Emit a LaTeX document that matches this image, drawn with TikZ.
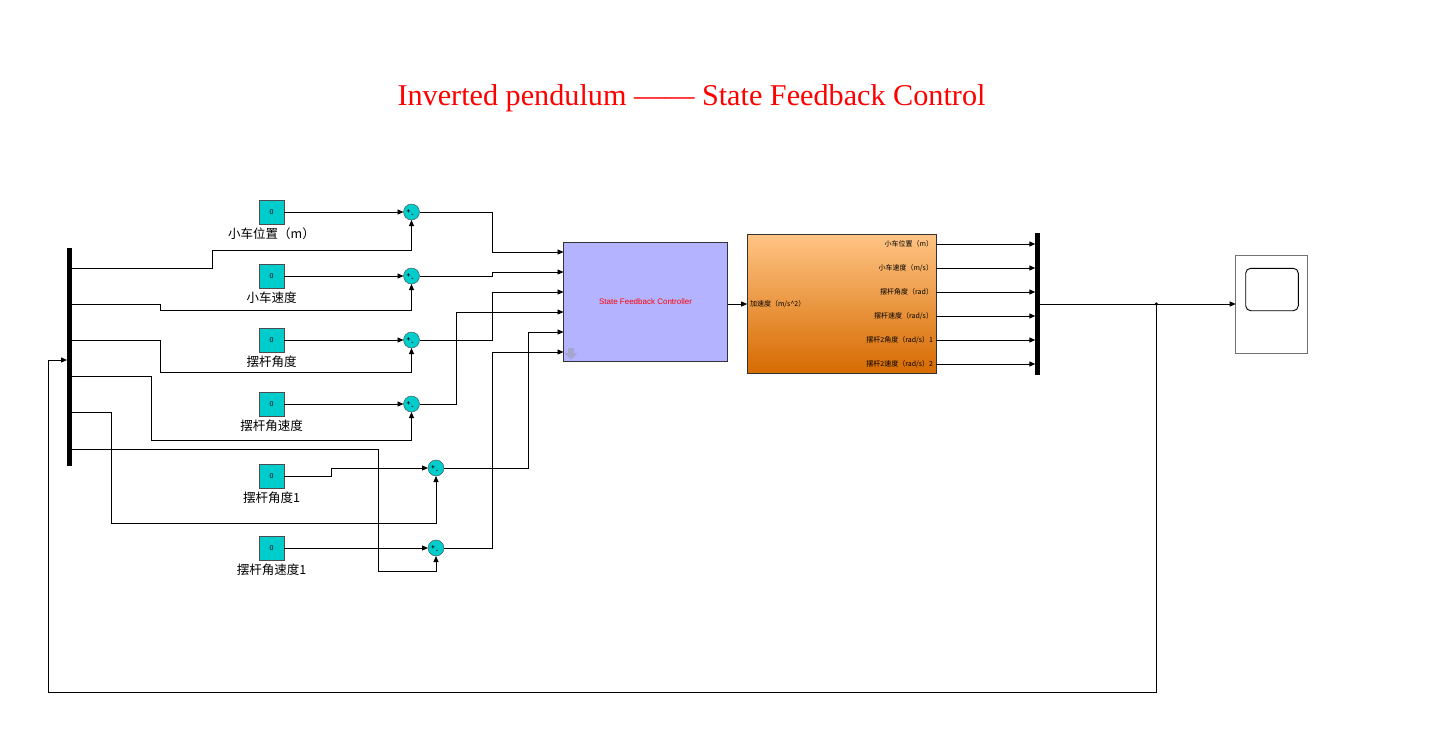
\documentclass[tikz,border=0pt]{standalone}
\usepackage{fontspec}
\setmainfont{Liberation Sans}
\newfontfamily\cjk{Noto Sans CJK SC}
\newfontfamily\titlefont{Liberation Serif}
\usetikzlibrary{arrows.meta,positioning}
\definecolor{blkcyan}{RGB}{0,204,204}
\definecolor{ctrlfill}{RGB}{179,179,255}
\definecolor{orgtop}{RGB}{255,196,132}
\definecolor{orgbot}{RGB}{214,106,0}
\definecolor{icongray}{RGB}{165,165,205}

\begin{document}
\begin{tikzpicture}[
			x=1pt, y=-1pt,
			every node/.style={inner sep=0pt, outer sep=0pt},
			line join=miter,
			sig/.style={line width=0.9pt, -{Triangle[length=6pt,width=5pt]}},
			constblk/.style={draw=black!70, fill=blkcyan, minimum width=25pt, minimum height=24pt, font=\fontsize{7}{8}\selectfont},
			sumblk/.style={circle, draw=black!70, fill=blkcyan, minimum size=16pt},
			bar/.style={fill=black, minimum width=5pt},
			lbl/.style={font=\cjk\fontsize{12.5}{14}\selectfont},
			portlbl/.style={font=\cjk\fontsize{7}{8}\selectfont},
			sgn/.style={font=\bfseries\fontsize{6.5}{6.5}\selectfont}
			]
			\useasboundingbox (0,0) rectangle (1435,737);
			
			% Title
			\node[text=red, font=\titlefont\fontsize{30.2}{34}\selectfont, anchor=base] (title) at (691.5,105.7) {Inverted pendulum —— State Feedback Control};
			
			% Demux
			\node[bar, minimum height=218pt] (demux) at (69.5,357) {};
			\foreach \k/\y in {1/268,2/304,3/340,4/376,5/412,6/449}
			\coordinate (d\k) at (72,\y);
			\coordinate (fb) at (67,360);
			
			% Constants and sums
			\foreach \k/\y in {1/212,2/276,3/340,4/404} {
				\node[constblk] (c\k) at (271.5,\y) {0};
				\node[sumblk] (s\k) at (411.5,\y) {};
			}
			\node[constblk] (c5) at (271.5,476) {0};
			\node[constblk] (c6) at (271.5,548) {0};
			\node[sumblk] (s5) at (436,468) {};
			\node[sumblk] (s6) at (436,548) {};
			
			\foreach \k/\t in {1/小车位置（m）,2/小车速度,3/摆杆角度,4/摆杆角速度,5/摆杆角度1,6/摆杆角速度1}
			\node[lbl, below=4pt of c\k] (l\k) {\t};
			
			\foreach \k in {1,...,6} {
				\node[sgn] at ([xshift=-3pt,yshift=0.5pt]s\k.center) {+};
				\node[sgn] at ([xshift=1pt,yshift=-3.5pt]s\k.center) {-};
			}
			
			% Controller
			\node[draw=black!80, fill=ctrlfill, minimum width=164pt, minimum height=119pt, text=red, font=\fontsize{8}{9}\selectfont] (ctrl) at (645.5,302) {State Feedback Controller};
			\fill[icongray] (568,348) -- (574,348) -- (574,353) -- (577.5,353) -- (571,359.5) -- (564.5,353) -- (568,353) -- cycle;
			\foreach \k/\y in {1/252,2/272,3/292,4/312,5/332,6/352}
			\coordinate (i\k) at (563.5,\y);
			
			% Plant
			\node[draw=black!80, top color=orgtop, bottom color=orgbot, minimum width=189pt, minimum height=139pt] (pend) at (841.7,304) {};
			\node[portlbl, anchor=west] (u) at (750,304.5) {加速度（m/s\textasciicircum 2）};
			\foreach \k/\y/\t in {1/244/{小车位置（m）},2/268/{小车速度（m/s）},3/292/{摆杆角度（rad）},4/316/{摆杆速度（rad/s）},5/340/{摆杆2角度（rad/s）1},6/364/{摆杆2速度（rad/s）2}} {
				\coordinate (o\k) at (936,\y);
				\coordinate (m\k) at (1035.3,\y);
				\node[portlbl, anchor=east] (p\k) at (933,\y) {\t};
			}
			
			% Mux and scope
			\node[bar, minimum height=142pt] (mux) at (1037.8,304) {};
			\node[draw=black!55, line width=0.8pt, minimum width=72pt, minimum height=98pt] (scope) at (1271.7,304) {};
			\node[draw, line width=0.9pt, rounded corners=5pt, minimum width=52.6pt, minimum height=42.4pt] (screen) at (1272,289.5) {};
			\coordinate (br) at (1156.3,304);
			
			% Constants to sums
			\foreach \k in {1,2,3,4,6}
			\draw[sig] (c\k.east) -- (s\k.west);
			\draw[sig] (c5.east) -| (331,468) -- (s5.west);
			
			% Measured states to sums
			\draw[sig] (d1) -| (212,250) -| (s1.south);
			\draw[sig] (d2) -| (160,310) -| (s2.south);
			\draw[sig] (d3) -| (160,372) -| (s3.south);
			\draw[sig] (d4) -| (151,440) -| (s4.south);
			\draw[sig] (d5) -| (111,523) -| (s5.south);
			\draw[sig] (d6) -| (378,571) -| (s6.south);
			
			% Errors to controller
			\draw[sig] (s1.east) -| (492,252) -- (i1);
			\draw[sig] (s2.east) -| (492,272) -- (i2);
			\draw[sig] (s3.east) -| (492,292) -- (i3);
			\draw[sig] (s4.east) -| (456,312) -- (i4);
			\draw[sig] (s5.east) -| (528,332) -- (i5);
			\draw[sig] (s6.east) -| (492,352) -- (i6);
			
			% Controller to plant, plant to mux
			\draw[sig] (ctrl.east |- pend.west) -- (pend.west);
			\foreach \k in {1,...,6}
			\draw[sig] (o\k) -- (m\k);
			
			% Mux to scope and feedback
			\draw[sig] (mux.east) -- (scope.west);
			\fill (br) circle (1.8);
			\draw[sig] (br) -- (1156.3,692.3) -| (48.3,360) -- (fb);
		\end{tikzpicture}
\end{document}
